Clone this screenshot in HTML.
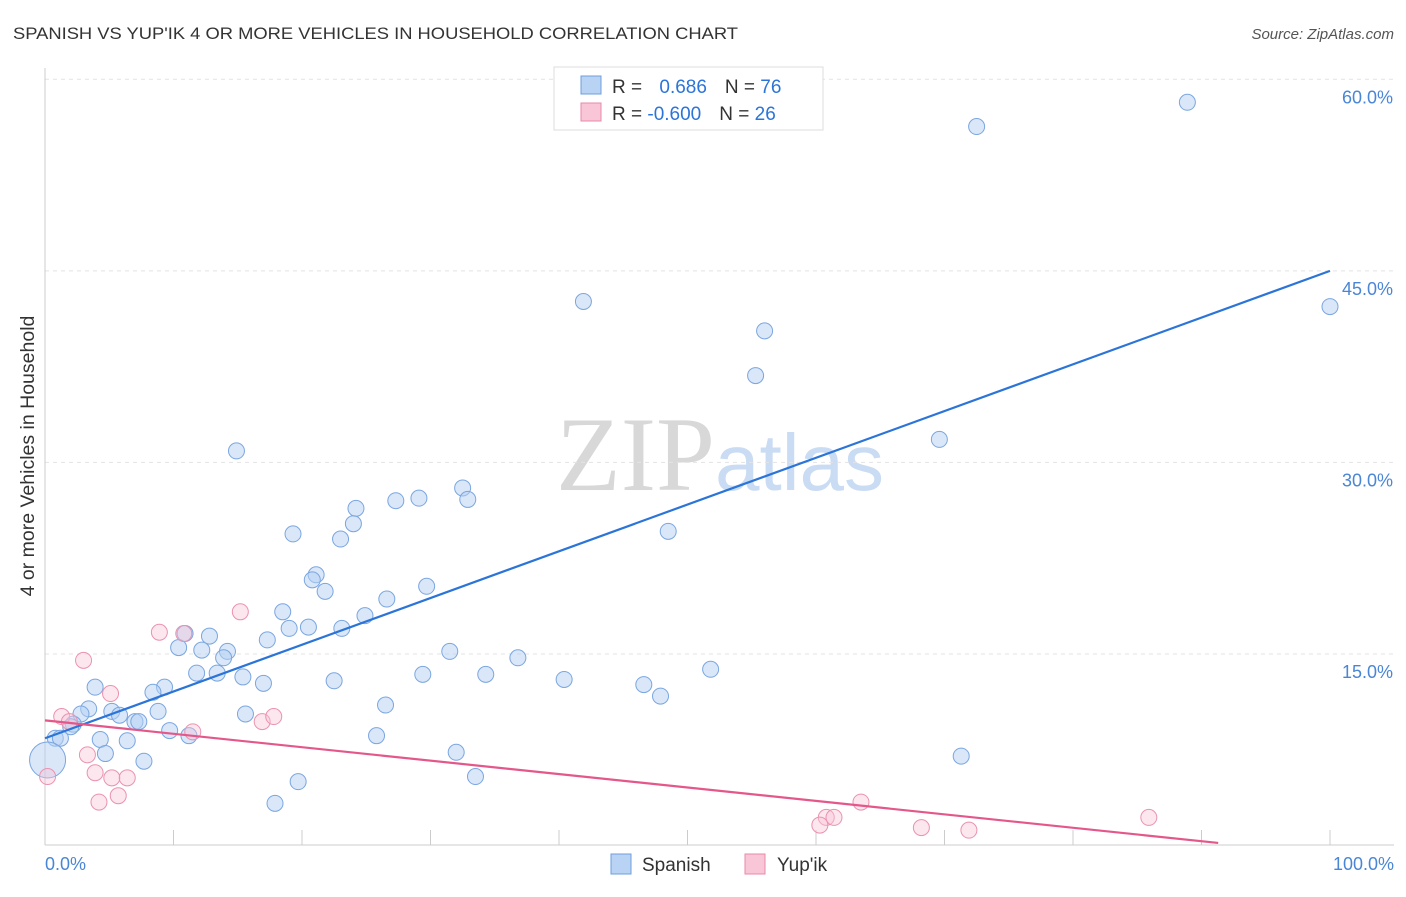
<!DOCTYPE html>
<html><head><meta charset="utf-8"><style>
body{margin:0;background:#fff;font-family:"Liberation Sans",sans-serif;}
svg text{font-family:"Liberation Sans",sans-serif;}
</style></head><body>
<svg id="chart" width="1406" height="892" xmlns="http://www.w3.org/2000/svg">
<text x="13" y="39" font-size="17" fill="#333" textLength="725" lengthAdjust="spacingAndGlyphs">SPANISH VS YUP'IK 4 OR MORE VEHICLES IN HOUSEHOLD CORRELATION CHART</text>
<text x="1394" y="39" font-size="15" fill="#555" text-anchor="end" font-style="italic">Source: ZipAtlas.com</text>
<text x="720" y="490" font-size="106" text-anchor="middle"><tspan fill="#d8d8d8" font-family="Liberation Serif">ZIP</tspan><tspan fill="#c9dcf3" font-size="80">atlas</tspan></text>
<g id="grid"></g>
<g id="axes"></g>
<g id="pts"></g>
<g id="lines"></g>
<text transform="translate(34,456) rotate(-90)" font-size="19.5" fill="#333" text-anchor="middle">4 or more Vehicles in Household</text>
<g>
<rect x="554" y="67" width="269" height="63" fill="#fff" stroke="#ddd"/>
<rect x="581" y="76" width="20" height="18" fill="#b8d3f4" stroke="#6f9fdc"/>
<rect x="581" y="103" width="20" height="18" fill="#f8c6d6" stroke="#e98aa8"/>
<text x="612" y="93" font-size="19" fill="#333">R = <tspan fill="#2b74d8" dx="12">0.686</tspan><tspan dx="18" fill="#333">N = </tspan><tspan fill="#2b74d8">76</tspan></text>
<text x="612" y="120" font-size="19" fill="#333">R = <tspan fill="#2b74d8">-0.600</tspan><tspan dx="18" fill="#333">N = </tspan><tspan fill="#2b74d8">26</tspan></text>
</g>
<g>
<rect x="611" y="854" width="20" height="20" fill="#b8d3f4" stroke="#6f9fdc"/>
<text x="642" y="871" font-size="19" fill="#333">Spanish</text>
<rect x="745" y="854" width="20" height="20" fill="#f8c6d6" stroke="#e98aa8"/>
<text x="777" y="871" font-size="19" fill="#333">Yup'ik</text>
</g>
</svg>
<script>
const yTicks=[15,30,45,60];
const yTickLabels=["15.0%","30.0%","45.0%","60.0%"];
const xTickLabels=["0.0%","100.0%"];
const spanishX=[88.9,72.5,41.9,56.0,100,55.3,69.6,14.9,32.5,29.1,27.3,24.2,32.9,24.0,19.3,23.0,48.5,21.1,20.8,21.8,29.7,26.6,18.5,24.9,19.0,20.5,23.1,17.3,12.8,10.9,10.4,12.2,14.2,13.9,31.5,36.8,51.8,11.8,13.4,15.4,17.0,22.5,29.4,34.3,40.4,46.6,47.9,3.9,9.3,8.4,3.4,2.8,5.2,5.8,8.8,15.6,26.5,7.0,7.3,2.2,2.0,9.7,11.2,25.8,0.8,1.2,4.3,6.4,32.0,71.3,4.7,7.7,33.5,19.7,17.9,0.2];
const spanishY=[58.2,56.3,42.6,40.3,42.2,36.8,31.8,30.9,28.0,27.2,27.0,26.4,27.1,25.2,24.4,24.0,24.6,21.2,20.8,19.9,20.3,19.3,18.3,18.0,17.0,17.1,17.0,16.1,16.4,16.6,15.5,15.3,15.2,14.7,15.2,14.7,13.8,13.5,13.5,13.2,12.7,12.9,13.4,13.4,13.0,12.6,11.7,12.4,12.4,12.0,10.7,10.3,10.5,10.2,10.5,10.3,11.0,9.7,9.7,9.5,9.3,9.0,8.6,8.6,8.4,8.4,8.3,8.2,7.3,7.0,7.2,6.6,5.4,5.0,3.3,6.7];
const yupikX=[0.2,1.3,1.9,3.0,5.1,3.3,3.9,5.2,6.4,4.2,5.7,8.9,10.8,15.2,16.9,17.8,11.5,63.5,60.8,60.3,61.4,68.2,71.9,85.9];
const yupikY=[5.4,10.1,9.7,14.5,11.9,7.1,5.7,5.3,5.3,3.4,3.9,16.7,16.6,18.3,9.7,10.1,8.9,3.4,2.2,1.6,2.2,1.4,1.2,2.2];
const spanishTrend=[[0,8.4],[100,45.0]];
const yupikTrend=[[0,9.8],[91.3,0.2]];
const NS="http://www.w3.org/2000/svg";
const X=v=>45+v*12.85, Y=v=>845.5-v*12.77;
function mk(t,a,p){const e=document.createElementNS(NS,t);for(const k in a)e.setAttribute(k,a[k]);p.appendChild(e);return e;}
const grid=document.getElementById('grid'),axes=document.getElementById('axes'),pts=document.getElementById('pts'),lines=document.getElementById('lines');
yTicks.forEach((t,i)=>{
 const l=mk('line',{x1:45,x2:1394,y1:Y(t),y2:Y(t),stroke:'#e3e3e3','stroke-dasharray':'4,4'},grid);
 
 
 const tx=mk('text',{x:1393,y:Y(t)+24,'font-size':18,fill:'#4a86d6','text-anchor':'end'},grid);
 tx.textContent=yTickLabels[i];
 
 
});
mk('line',{x1:45,x2:45,y1:68,y2:845,stroke:'#ccc'},axes);
mk('line',{x1:45,x2:1394,y1:845,y2:845,stroke:'#ccc'},axes);
for(let i=1;i<=10;i++){mk('line',{x1:X(i*10),x2:X(i*10),y1:830,y2:845,stroke:'#ccc'},axes);}
[[0,'start',45],[1,'end',1394]].forEach(([i,a,x])=>{
 const tx=mk('text',{x:x,y:870,'font-size':18,fill:'#4a86d6','text-anchor':a},axes);
 tx.textContent=xTickLabels[i];
 
 
});
spanishX.forEach((v,i)=>{
 const c=mk('circle',{cx:X(v),cy:Y(spanishY[i]),r:i===spanishX.length-1?18:8,fill:'rgba(180,208,244,0.5)',stroke:'#7aa6e0','stroke-width':1},pts);
 
 
});
yupikX.forEach((v,i)=>{
 const c=mk('circle',{cx:X(v),cy:Y(yupikY[i]),r:8,fill:'rgba(248,196,214,0.4)',stroke:'#eb92ae','stroke-width':1},pts);
 
 
});
const l1=mk('line',{x1:X(spanishTrend[0][0]),y1:Y(spanishTrend[0][1]),x2:X(spanishTrend[1][0]),y2:Y(spanishTrend[1][1]),stroke:'#2b74d8','stroke-width':2.2},lines);


const l2=mk('line',{x1:X(yupikTrend[0][0]),y1:Y(yupikTrend[0][1]),x2:X(yupikTrend[1][0]),y2:Y(yupikTrend[1][1]),stroke:'#e4578a','stroke-width':2.2},lines);


</script>
</body></html>
